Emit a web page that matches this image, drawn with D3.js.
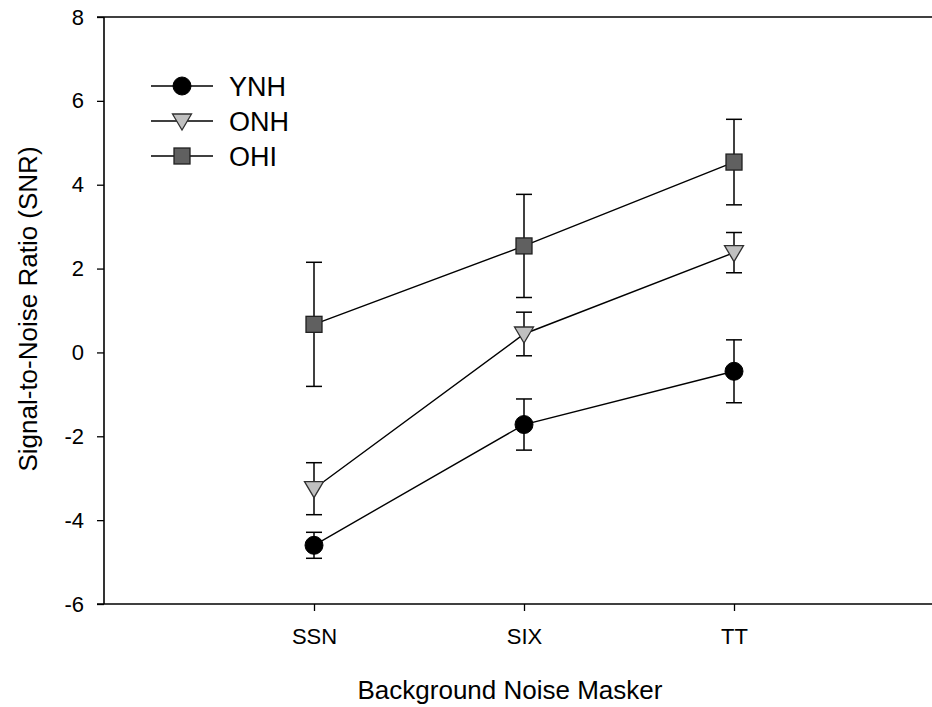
<!DOCTYPE html>
<html>
<head>
<meta charset="utf-8">
<script src="https://cdn.jsdelivr.net/npm/d3@7"></script>
<style>
  html, body { margin: 0; padding: 0; background: #fff; }
  svg { display: block; }
  text { font-family: "Liberation Sans", Arial, Helvetica, sans-serif; fill: #000; }
</style>
</head>
<body>
<svg id="chart" width="932" height="707"></svg>
<script>
// ---- data ----
const categories = ["SSN", "SIX", "TT"];
const seriesNames = ["YNH", "ONH", "OHI"];
const ynhMean = [-4.6, -1.72, -0.45];
const ynhErr  = [0.31, 0.61, 0.75];
const onhMean = [-3.25, 0.44, 2.38];
const onhErr  = [0.62, 0.52, 0.48];
const ohiMean = [0.67, 2.54, 4.54];
const ohiErr  = [1.48, 1.23, 1.02];
const yTicks = [-6, -4, -2, 0, 2, 4, 6, 8];
const xLabel = "Background Noise Masker";
const yLabel = "Signal-to-Noise Ratio (SNR)";

(function () {
const series = [
  { name: seriesNames[0], mean: ynhMean, err: ynhErr, shape: "circle",   fill: "#000000", stroke: "#000000" },
  { name: seriesNames[1], mean: onhMean, err: onhErr, shape: "triangle", fill: "#c0c0c0", stroke: "#303030" },
  { name: seriesNames[2], mean: ohiMean, err: ohiErr, shape: "square",   fill: "#606060", stroke: "#202020" }
];

const svg = d3.select("#chart");
const pLeft = 104, pTop = 17, pBottom = 604, pRight = 944;

const x = d3.scaleLinear().domain([0, 4]).range([pLeft, pRight]);
const y = d3.scaleLinear().domain([-6, 8]).range([pBottom, pTop]);
const xc = i => x(i + 1);

// axes
const yAxis = d3.axisLeft(y).tickValues(yTicks).tickSize(7).tickPadding(13).tickFormat(d => String(d));
const gy = svg.append("g").attr("transform", `translate(${pLeft},0)`).call(yAxis);
gy.select(".domain").attr("stroke", "#000").attr("stroke-width", 1.6).attr("d", `M0,${pTop}V${pBottom}`);
gy.selectAll(".tick line").attr("stroke", "#000").attr("stroke-width", 1.3);
gy.selectAll(".tick text").style("font-size", "22px").attr("font-family", null);

const xAxis = d3.axisBottom(x).tickValues([1, 2, 3]).tickSize(7).tickPadding(17)
  .tickFormat(d => categories[d - 1]);
const gx = svg.append("g").attr("transform", `translate(0,${pBottom})`).call(xAxis);
gx.select(".domain").attr("stroke", "#000").attr("stroke-width", 1.6).attr("d", `M${pLeft - 7},0H932`);
gx.selectAll(".tick line").attr("stroke", "#000").attr("stroke-width", 1.3);
gx.selectAll(".tick text").style("font-size", "22px").attr("font-family", null);

// top frame line
svg.append("line").attr("x1", pLeft - 7).attr("x2", 932).attr("y1", pTop).attr("y2", pTop)
  .attr("stroke", "#000").attr("stroke-width", 1.6);

// axis titles
svg.append("text").attr("x", 510).attr("y", 699).attr("text-anchor", "middle")
  .style("font-size", "26px").text(xLabel);
svg.append("text").attr("transform", `translate(37,309) rotate(-90)`).attr("text-anchor", "middle")
  .style("font-size", "26px").text(yLabel);

// marker helper
function marker(g, s, cx, cy) {
  if (s.shape === "circle") {
    g.append("circle").attr("cx", cx).attr("cy", cy).attr("r", 9)
      .attr("fill", s.fill).attr("stroke", s.stroke).attr("stroke-width", 1);
  } else if (s.shape === "square") {
    g.append("rect").attr("x", cx - 8).attr("y", cy - 8).attr("width", 16).attr("height", 16)
      .attr("fill", s.fill).attr("stroke", s.stroke).attr("stroke-width", 1.3);
  } else {
    const w = 9.5, h1 = 7, h2 = 9;
    g.append("path").attr("d", `M${cx - w},${cy - h1}L${cx + w},${cy - h1}L${cx},${cy + h2}Z`)
      .attr("fill", s.fill).attr("stroke", s.stroke).attr("stroke-width", 1.3);
  }
}

const line = d3.line().x((d, i) => xc(i)).y(d => y(d));

series.forEach(s => {
  const g = svg.append("g");
  s.mean.forEach((m, i) => {
    const cx = xc(i), cap = 8;
    g.append("line").attr("x1", cx).attr("x2", cx).attr("y1", y(m + s.err[i])).attr("y2", y(m - s.err[i]))
      .attr("stroke", "#000").attr("stroke-width", 1.5);
    [m + s.err[i], m - s.err[i]].forEach(v => {
      g.append("line").attr("x1", cx - cap).attr("x2", cx + cap).attr("y1", y(v)).attr("y2", y(v))
        .attr("stroke", "#000").attr("stroke-width", 1.5);
    });
  });
  g.append("path").datum(s.mean).attr("d", line).attr("fill", "none")
    .attr("stroke", "#000").attr("stroke-width", 1.4);
  s.mean.forEach((m, i) => marker(g, s, xc(i), y(m)));
});

// legend
const leg = svg.append("g");
series.forEach((s, k) => {
  const ly = 86 + k * 35;
  leg.append("line").attr("x1", 151).attr("x2", 213).attr("y1", ly).attr("y2", ly)
    .attr("stroke", "#000").attr("stroke-width", 1.4);
  marker(leg, s, 182, ly);
  leg.append("text").attr("x", 229).attr("y", ly).attr("dy", "0.36em")
    .style("font-size", "27px").text(s.name);
});
})();
</script>
</body>
</html>
